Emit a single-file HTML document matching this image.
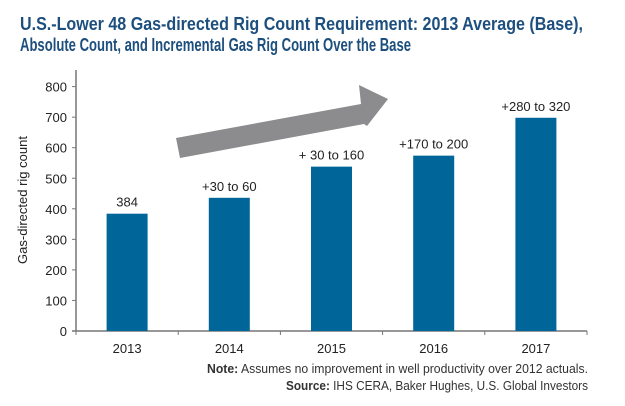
<!DOCTYPE html>
<html><head><meta charset="utf-8"><style>
html,body{margin:0;padding:0;background:#fff;width:625px;height:406px;overflow:hidden}
svg{display:block;font-family:"Liberation Sans Narrow","Liberation Sans",sans-serif}
</style></head><body>
<svg width="625" height="406" viewBox="0 0 625 406">
<text x="20" y="30" font-size="18" font-weight="bold" fill="#1d4f7e" textLength="563" lengthAdjust="spacingAndGlyphs">U.S.-Lower 48 Gas-directed Rig Count Requirement: 2013 Average (Base),</text>
<text x="20" y="51" font-size="18" font-weight="bold" fill="#1d4f7e" textLength="391" lengthAdjust="spacingAndGlyphs">Absolute Count, and Incremental Gas Rig Count Over the Base</text>
<polygon points="176,138 361,104 359,85 388,99 367,126 364,124 180,158" fill="#8c8c8e"/>
<g id="plot"></g>
<text transform="translate(27,200) rotate(-90)" text-anchor="middle" font-size="13" fill="#222">Gas-directed rig count</text>
<text x="588" y="373" text-anchor="end" font-size="13" fill="#333" textLength="381" lengthAdjust="spacingAndGlyphs"><tspan font-weight="bold">Note:</tspan> Assumes no improvement in well productivity over 2012 actuals.</text>
<text x="588" y="390" text-anchor="end" font-size="13" fill="#333" textLength="302" lengthAdjust="spacingAndGlyphs"><tspan font-weight="bold">Source:</tspan> IHS CERA, Baker Hughes, U.S. Global Investors</text>
</svg>
<script>
const categories=["2013","2014","2015","2016","2017"];
const values=[384,436,538,574,698];
const barLabels=["384","+30 to 60","+ 30 to 160","+170 to 200","+280 to 320"];
const yTicks=[0,100,200,300,400,500,600,700,800];
const NS="http://www.w3.org/2000/svg";
const g=document.getElementById("plot");
const x0=76,x1=587,yBase=331,pxPer=0.3055;
const y=v=>yBase-v*pxPer;
const bw=(x1-x0)/categories.length;
const xc=i=>x0+bw*(i+0.5);
function mk(t,a){const e=document.createElementNS(NS,t);for(const k in a)e.setAttribute(k,a[k]);g.appendChild(e);return e;}
let ax=mk("line",{x1:x0,y1:70,x2:x0,y2:yBase,stroke:"#777","stroke-width":1.5});


let bx=mk("line",{x1:x0-4,y1:yBase,x2:x1,y2:yBase,stroke:"#777","stroke-width":1.5});


yTicks.forEach(v=>{
  let tk=mk("line",{x1:x0-4,y1:y(v),x2:x0,y2:y(v),stroke:"#777"});
  
  
  let t=mk("text",{x:x0-9,y:y(v)+5,"text-anchor":"end","font-size":13,fill:"#222"});
  t.textContent=v;
  
  
});
for(let i=0;i<=categories.length;i++){
  let tk=mk("line",{x1:x0+bw*i,y1:yBase,x2:x0+bw*i,y2:yBase+4,stroke:"#777"});
  
  
}
categories.forEach((c,i)=>{
  const w=41;
  let r=mk("rect",{x:xc(i)-w/2,y:y(values[i]),width:w,height:yBase-y(values[i]),fill:"#006699"});
  
  
  let l=mk("text",{x:xc(i),y:y(values[i])-7,"text-anchor":"middle","font-size":13,fill:"#222"});
  l.textContent=barLabels[i];
  
  
  let t=mk("text",{x:xc(i),y:yBase+22,"text-anchor":"middle","font-size":13,fill:"#222"});
  t.textContent=c;
  
  
});
</script>
</body></html>
